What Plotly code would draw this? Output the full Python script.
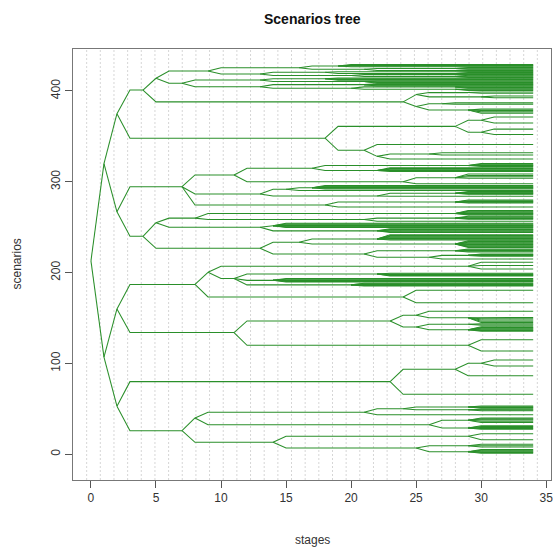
import plotly.graph_objects as go

LAST_STAGE = 34

# ---- tree structure: (name, parent, y, stage at which the node splits) ----
trunk = [
    ("R", None, 213, 0),
    ("A", "R", 320, 1), ("B", "R", 107, 1),
    ("A1", "A", 375, 2), ("A2", "A", 267, 2),
    ("B1", "B", 160, 2), ("B2", "B", 53, 2),
    ("A1a", "A1", 401, 4), ("A1b", "A1", 348, 18),
    ("A2a", "A2", 294.6, 7), ("A2b", "A2", 240, 4),
    ("B1a", "B1", 187, 8), ("B1b", "B1", 134, 11),
    ("B2a", "B2", 80, 23), ("B2b", "B2", 26, 7),
]

upper_nodes = [
    ("A1a1", "A1a", 414, 5), ("A1a2", "A1a", 388, 24),
    ("P", "A1a1", 422, 9), ("Q", "A1a1", 408.5, 7),
    ("P1", "P", 425.6, 16), ("P2", "P", 418.7, 13),
    ("Q1", "Q", 412, 13), ("Q2", "Q", 404.7, 13),
    ("P1a", "P1", 427.5, 19), ("P1b", "P1", 424, 21),
    ("P1b1", "P1b", 424.8, 28), ("P1b2", "P1b", 422.6, 28),
    ("P2a", "P2", 420.5, 18), ("P2b", "P2", 417, 20),
    ("P2a2", "P2a", 419.2, 28), ("P2b2", "P2b", 416, 28),
    ("Q1a", "Q1", 413.5, 18), ("Q1b", "Q1", 410.5, 21),
    ("Q2a", "Q2", 407, 21), ("Q2b", "Q2", 403, 20),
    ("Q2b1", "Q2b", 404.5, 28), ("Q2b2", "Q2b", 402, 28),
    ("A1a2a", "A1a2", 396, 25), ("A1a2b", "A1a2", 383, 25),
    ("A1a2a1", "A1a2a", 398.2, 29), ("A1a2a2", "A1a2a", 393.5, 30),
    ("A1a2b1", "A1a2b", 386, 27), ("A1a2b2", "A1a2b", 379, 29),
    ("A1b1", "A1b", 361, 28), ("A1b2", "A1b", 334.7, 21),
    ("A1b1a", "A1b1", 367.7, 30), ("A1b1b", "A1b1", 354.5, 30),
    ("A1b2b", "A1b2", 328, 22), ("A1b2b1", "A1b2b", 330.7, 26),
]

middle_nodes = [
    ("A2a1", "A2a", 307.5, 11), ("A2a2", "A2a", 286.6, 13), ("A2a3", "A2a", 274.5, 18),
    ("A2a1a", "A2a1", 314.9, 17), ("A2a1b", "A2a1", 300.1, 24),
    ("A2a1a1", "A2a1a", 318, 29), ("A2a1a2", "A2a1a", 312.5, 22),
    ("A2a1b1", "A2a1b", 304.5, 28),
    ("A2a2a", "A2a2", 291.8, 15), ("A2a2b", "A2a2", 284.4, 22),
    ("A2a2a1", "A2a2a", 293.5, 17), ("A2a2b1", "A2a2b", 287.5, 28),
    ("A2a3a", "A2a3", 277.8, 28),
    ("A2b1", "A2b", 255, 5), ("A2b2", "A2b", 226.8, 13),
    ("A2b1a", "A2b1", 260, 8), ("A2b1b", "A2b1", 250, 13),
    ("A2b1a1", "A2b1a", 265, 28), ("A2b1a2", "A2b1a", 258.5, 21),
    ("A2b1a2a", "A2b1a2", 260, 28),
    ("A2b1b1", "A2b1b", 251.5, 14), ("A2b1b2", "A2b1b", 246, 22),
    ("A2b2a", "A2b2", 233.4, 16), ("A2b2b", "A2b2", 220.5, 21),
    ("A2b2a1", "A2b2a", 237, 22), ("A2b2a2", "A2b2a", 231.5, 28),
    ("A2b2b1", "A2b2b", 224, 28), ("A2b2b2", "A2b2b", 216.9, 26),
    ("A2b2b2a", "A2b2b2", 219, 29),
]

lower_nodes = [
    ("B1a1", "B1a", 200.4, 9), ("B1a2", "B1a", 173.2, 24),
    ("B1a1a", "B1a1", 207, 29), ("B1a1b", "B1a1", 193.5, 11),
    ("B1a1b1", "B1a1b", 198.5, 22), ("B1a1b2", "B1a1b", 191.5, 14),
    ("B1a1b3", "B1a1b", 186.5, 20),
    ("B1b1", "B1b", 146.8, 23), ("B1b2", "B1b", 120, 29),
    ("B1b1a", "B1b1", 153, 25), ("B1b1b", "B1b1", 140.1, 25),
    ("B1b1a2", "B1b1a", 150.4, 29),
    ("B1b1b1", "B1b1b", 143.1, 29), ("B1b1b2", "B1b1b", 137.2, 29),
    ("B2a1", "B2a", 93.6, 28), ("B2a1a", "B2a1", 100.2, 30),
    ("B2b1", "B2b", 40, 8), ("B2b2", "B2b", 13.2, 14),
    ("B2b1a", "B2b1", 46.2, 21), ("B2b1b", "B2b1", 32.6, 26),
    ("B2b1a1", "B2b1a", 50.2, 24),
    ("B2b1a1a", "B2b1a1", 52, 29), ("B2b1a1b", "B2b1a1", 49, 29),
    ("B2b1b1", "B2b1b", 37.4, 29), ("B2b1b2", "B2b1b", 29, 29),
    ("B2b2a", "B2b2", 19.8, 29), ("B2b2b", "B2b2", 6.9, 25),
    ("B2b2b1", "B2b2b", 9.5, 29), ("B2b2b2", "B2b2b", 2.8, 29),
]

# ---- final scenarios (leaves), grouped by the node they branch from ----
upper_leaves = [
    ("P1a", [429, 428.2, 427.4, 426.6]),
    ("P1b1", [425.8, 425, 424.2]),
    ("P1b2", [423.4, 422.6, 421.8]),
    ("P2a", [421.2]),
    ("P2a2", [420.4, 419.6, 418.8]),
    ("P2b", [418]),
    ("P2b2", [417.2, 416.4, 415.6, 414.8]),
    ("Q1a", [414.2, 413.4, 412.6, 411.8]),
    ("Q1b", [411, 410.2, 409.4, 408.6]),
    ("Q2a", [407.8, 407, 406.2, 405.4]),
    ("Q2b1", [404.6, 403.8, 403]),
    ("Q2b2", [402.2, 401.4, 400.6]),
    ("A1a2a1", [398.8, 397.5]),
    ("A1a2a2", [394.5, 392.5]),
    ("A1a2b1", [387, 385.5]),
    ("A1a2b2", [380, 378.5, 377, 375.5]),
    ("A1b1a", [371.4, 364.8]),
    ("A1b1b", [358, 352]),
    ("A1b2", [341]),
    ("A1b2b", [325]),
    ("A1b2b1", [332, 329.5]),
]

middle_leaves = [
    ("A2a1a1", [320.2, 319.4, 318.6, 317.8, 317]),
    ("A2a1a2", [315.5, 314.7, 313.9, 313.1, 312.3, 311.5]),
    ("A2a1b1", [308.5, 307, 305.5, 304]),
    ("A2a1b", [297.9]),
    ("A2a2a1", [296, 295.2, 294.4, 293.6, 292.8, 292]),
    ("A2a2a", [290.4]),
    ("A2a2b1", [289.4, 288.6, 287.8, 287, 286.2]),
    ("A2a2b", [284]),
    ("A2a3a", [280, 279.2, 278.4, 277.6, 276.8]),
    ("A2a3", [272.3]),
    ("A2b1a1", [268.4, 267.6, 266.8, 266, 265.2, 264.4, 263.6]),
    ("A2b1a2a", [262, 261.2, 260.4, 259.6, 258.8]),
    ("A2b1a2", [256.5]),
    ("A2b1b1", [254.4, 253.6, 252.8, 252, 251.2, 250.4, 249.6]),
    ("A2b1b2", [248.2, 247.4, 246.6, 245.8, 245, 244.2]),
    ("A2b2a1", [241.6, 240.8, 240, 239.2, 238.4, 237.6, 236.8, 236]),
    ("A2b2a2", [235, 234.2, 233.4, 232.6, 231.8, 231, 230.2, 229.4, 228.6, 227.8]),
    ("A2b2b1", [226, 225.2, 224.4, 223.6, 222.8]),
    ("A2b2b2a", [220.6, 219.8, 219, 218.2]),
    ("A2b2b2", [215]),
]

lower_leaves = [
    ("B1a1a", [211.4, 207.8, 204]),
    ("B1a1b1", [199.4, 198.6, 197.8, 197, 196.2]),
    ("B1a1b2", [193.6, 192.8, 192, 191.2, 190.4, 189.6]),
    ("B1a1b3", [188.4, 187.6, 186.8, 186, 185.2]),
    ("B1a2", [180.5, 166.9]),
    ("B1b1a", [157.4]),
    ("B1b1a2", [150.6, 149.2, 147.8, 146.4, 145]),
    ("B1b1b1", [143.6, 142.2]),
    ("B1b1b2", [140.4, 139.6, 138.8, 138, 137.2, 136.4, 135.6]),
    ("B1b2", [126.2, 113.7]),
    ("B2a", [66]),
    ("B2a1", [86.5]),
    ("B2a1a", [103.8, 97.2]),
    ("B2b1a", [43.6]),
    ("B2b1a1a", [53.2, 52.4, 51.6, 50.8]),
    ("B2b1a1b", [49.6, 48.8, 48]),
    ("B2b1b1", [40, 39, 38, 36.5, 35]),
    ("B2b1b2", [31.5, 30.5, 29.5, 28.5, 27.5]),
    ("B2b2a", [22.6, 16.1]),
    ("B2b2b1", [11, 9.5, 8]),
    ("B2b2b2", [5.2, 4.4, 3.6, 2.8, 2, 1.2]),
]

x_ticks = [0, 5, 10, 15, 20, 25, 30, 35]
y_ticks = [0, 100, 200, 300, 400]

# ---- build the line geometry ----
nodes = {}
for group in (trunk, upper_nodes, middle_nodes, lower_nodes):
    for name, parent, y, split in group:
        nodes[name] = (parent, y, split)

xs, ys = [], []


def add_branch(parent, y, end):
    _, p_y, p_split = nodes[parent]
    xs.extend([p_split, p_split + 1, end, None])
    ys.extend([p_y, y, y, None])


for name, (parent, y, split) in nodes.items():
    if parent is not None:
        add_branch(parent, y, split)
for group in (upper_leaves, middle_leaves, lower_leaves):
    for parent, leaves in group:
        for y in leaves:
            add_branch(parent, y, LAST_STAGE)

X0, X1 = -1.38, 35.37
Y0, Y1 = -28.3, 446.2

fig = go.Figure()
fig.add_trace(go.Scatter(
    x=xs, y=ys, mode="lines",
    line=dict(color="#2a8f2a", width=1.05),
    hoverinfo="skip", showlegend=False,
))

# R-style grid(nx=35): dotted light-gray verticals evenly across the plot region
shapes = []
n_cells = 35
for k in range(1, n_cells):
    gx = X0 + k * (X1 - X0) / n_cells
    shapes.append(dict(type="line", xref="x", yref="paper", x0=gx, x1=gx, y0=0, y1=1,
                       line=dict(color="#d6d6d6", width=1, dash="2px,2px"), layer="below"))

font_family = "Liberation Sans, Arial, sans-serif"
fig.update_layout(
    width=558, height=556,
    margin=dict(l=73, r=5, t=49, b=76),
    paper_bgcolor="white", plot_bgcolor="white",
    shapes=shapes,
    font=dict(family=font_family, size=12, color="#333333"),
    xaxis=dict(range=[X0, X1], tickvals=x_ticks, ticks="outside", ticklen=7,
               tickcolor="#555555", showline=True, linecolor="#777777", linewidth=1,
               mirror=True, showgrid=False, zeroline=False,
               tickfont=dict(family=font_family, size=12, color="#333333")),
    yaxis=dict(range=[Y0, Y1], tickvals=y_ticks, ticks="outside", ticklen=7,
               tickcolor="#555555", showline=True, linecolor="#777777", linewidth=1,
               mirror=True, showgrid=False, zeroline=False, tickangle=-90,
               tickfont=dict(family=font_family, size=12, color="#333333")),
    annotations=[
        dict(text="<b>Scenarios tree</b>", x=0.5, y=1, xref="paper", yref="paper",
             xanchor="center", yanchor="bottom", yshift=20, showarrow=False,
             font=dict(family=font_family, size=14, color="#111111")),
        dict(text="stages", x=0.5, y=0, xref="paper", yref="paper",
             xanchor="center", yanchor="middle", yshift=-60, showarrow=False,
             font=dict(family=font_family, size=12, color="#333333")),
        dict(text="scenarios", x=0, y=0.5, xref="paper", yref="paper",
             xanchor="center", yanchor="middle", xshift=-57, textangle=-90,
             showarrow=False, font=dict(family=font_family, size=12, color="#333333")),
    ],
)

fig.write_html("out.html")
